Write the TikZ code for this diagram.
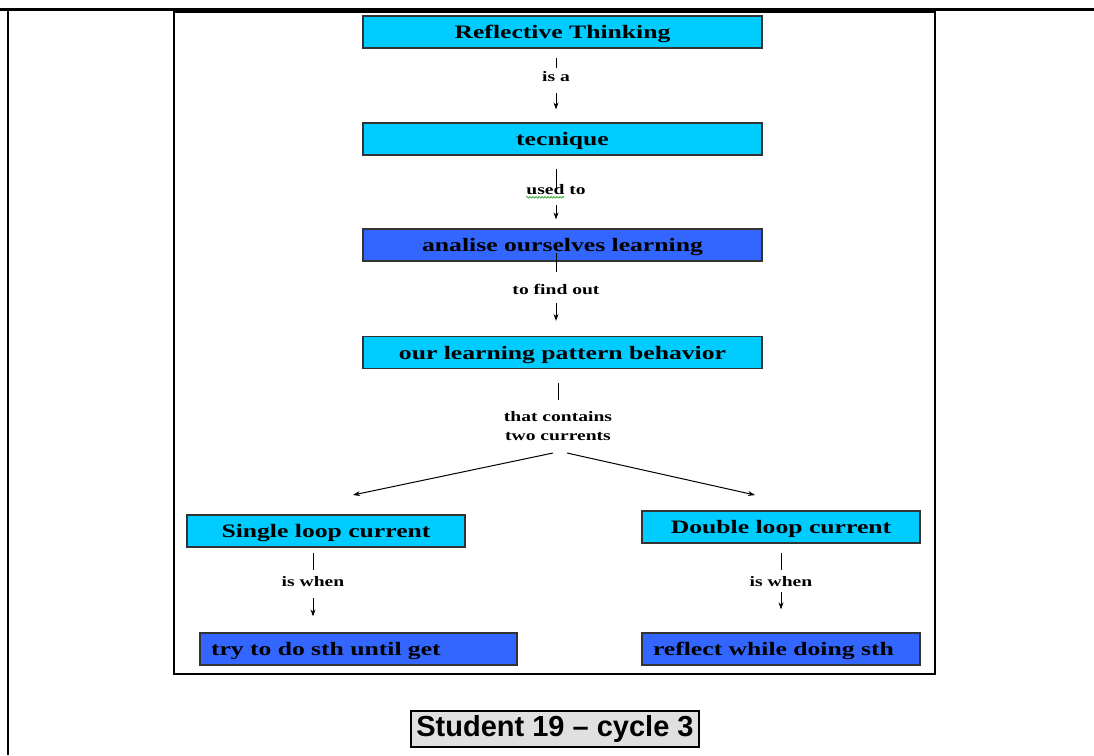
\documentclass[tikz,border=0pt]{standalone}
\usepackage{fontspec}
\setmainfont{Liberation Serif}
\newfontfamily\mapfont{Liberation Serif}[FakeStretch=1.35]
\newfontfamily\capfont{Liberation Sans}
\usetikzlibrary{arrows.meta,decorations.pathmorphing}
\definecolor{sky}{HTML}{00CCFF}
\definecolor{royal}{HTML}{3366FF}
\definecolor{shade}{HTML}{E0E0E0}
\tikzset{litebox/.style={draw=black!80,fill=sky,line width=1.2pt,minimum height=32pt,inner sep=0pt,text height=13pt,text depth=0pt,align=center,font=\mapfont\bfseries\fontsize{19}{22}\selectfont},darkbox/.style={litebox,fill=royal},leftbox/.style={darkbox,align=left,inner xsep=11pt},lbl/.style={inner sep=0pt,align=center,font=\mapfont\bfseries\fontsize{14.5}{19}\selectfont},seg/.style={draw=black,line width=1pt},flow/.style={seg,-{Stealth[length=7pt,width=5pt]}},capbox/.style={draw=black,line width=1.8pt,fill=shade,minimum width=288pt,minimum height=36pt,inner sep=2pt,font=\capfont\bfseries\fontsize{29}{32}\selectfont}}

\begin{document}
\begin{tikzpicture}[x=1pt,y=-1pt]
\useasboundingbox (0,0) rectangle (1094,755);
\draw[line width=3pt] (0,9) -- (1094,9);
\draw[line width=2.5pt] (8,9) -- (8,755);
\draw[line width=2pt] (174,11.5) rectangle (935,674);
% concept boxes
\node[litebox,minimum width=399pt] (rt) at (562.5,32) {Reflective Thinking};
\node[litebox,minimum width=399pt] (tec) at (562.5,139) {tecnique};
\node[darkbox,minimum width=399pt] (ana) at (562.5,245) {analise ourselves learning};
\node[litebox,minimum width=399pt] (pat) at (562.5,352.5) {our learning pattern behavior};
\node[litebox,minimum width=278pt] (sgl) at (326,531) {Single loop current};
\node[litebox,minimum width=278pt] (dbl) at (781,527) {Double loop current};
\node[leftbox,text width=295pt] (try) at (358.5,649) {try to do sth until get};
\node[leftbox,text width=256pt] (rfl) at (781,649) {reflect while doing sth};
% link labels
\node[lbl] (lisa) at (556,77) {is a};
\node[lbl] (lused) at (556,190) {used to};
\node[lbl] (lfind) at (556,289) {to find out};
\node[lbl] (lcon) at (558,426.5) {that contains\\two currents};
\node[lbl] (lsw) at (313,582) {is when};
\node[lbl] (ldw) at (781,582) {is when};
\coordinate (sglin) at (353,495);
\coordinate (dblin) at (755,495);
% links
\draw[seg,shorten <=9pt,shorten >=9pt] (lisa |- rt.south) -- (lisa.center);
\draw[flow,shorten <=16pt,shorten >=13pt] (lisa.center) -- (lisa |- tec.north);
\draw[seg,shorten <=13pt,shorten >=-2pt] (lused |- tec.south) -- (lused.center);
\draw[flow,shorten <=15pt,shorten >=9pt] (lused.center) -- (lused |- ana.north);
\draw[green!60!black,line width=0.6pt,decorate,decoration={snake,amplitude=0.8pt,segment length=3pt}] ([yshift=-2pt]lused.south west) -- ([xshift=38pt,yshift=-2pt]lused.south west);
\draw[seg,shorten <=-9pt,shorten >=17pt] (lfind |- ana.south) -- (lfind.center);
\draw[flow,shorten <=14pt,shorten >=15pt] (lfind.center) -- (lfind |- pat.north);
\draw[seg,shorten <=14pt,shorten >=26.5pt] (lcon |- pat.south) -- (lcon.center);
\draw[flow] ([xshift=-5pt,yshift=-26.5pt]lcon.center) -- (sglin);
\draw[flow] ([xshift=9pt,yshift=-26.5pt]lcon.center) -- (dblin);
\draw[seg,shorten <=5pt,shorten >=12pt] (lsw |- sgl.south) -- (lsw.center);
\draw[flow,shorten <=16pt,shorten >=16pt] (lsw.center) -- (lsw |- try.north);
\draw[seg,shorten <=9pt,shorten >=12pt] (ldw |- dbl.south) -- (ldw.center);
\draw[flow,shorten <=10pt,shorten >=23pt] (ldw.center) -- (ldw |- rfl.north);
% caption
\node[capbox] (cap) at (555,729) {Student 19 – cycle 3};
\end{tikzpicture}
\end{document}
